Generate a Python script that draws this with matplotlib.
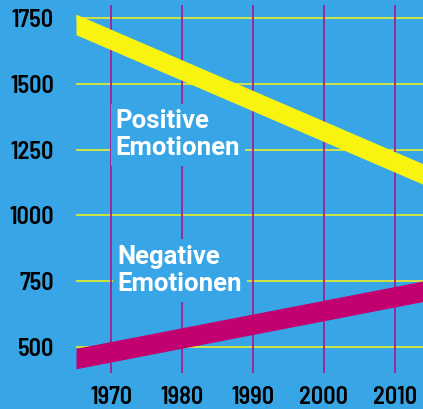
import matplotlib
matplotlib.use('Agg')
import matplotlib.pyplot as plt

# data
years = [1965, 2014]
positive = [1726, 1157]
negative = [455, 711]
band_width = 78

x_ticks = [1970, 1980, 1990, 2000, 2010]
y_ticks = [500, 750, 1000, 1250, 1500, 1750]

bg_blue = '#38a6e6'
band_yellow = '#f8f410'
band_magenta = '#c2006f'
grid_yellow = '#ecec28'
grid_purple = '#a8168a'

tick_font = ['Barlow Semi Condensed', 'Roboto Condensed', 'DejaVu Sans']
label_font = ['Roboto', 'DejaVu Sans']

fig = plt.figure(figsize=(4.23, 4.09), dpi=100)
fig.patch.set_facecolor(bg_blue)
ax = fig.add_axes([76/423, 36/409, 347/423, 368/409])
ax.set_facecolor(bg_blue)

ax.set_xlim(1965, 2014)
ax.set_ylim(400, 1800)

for y in y_ticks:
    ax.axhline(y, color=grid_yellow, lw=1.2, zorder=1)
for x in x_ticks:
    ax.axvline(x, color=grid_purple, lw=1.2, zorder=1)

half = band_width / 2
ax.fill_between(years, [v - half for v in positive], [v + half for v in positive],
                color=band_yellow, lw=0, zorder=3)
ax.fill_between(years, [v - half for v in negative], [v + half for v in negative],
                color=band_magenta, lw=0, zorder=3)

# label boxes hide the grid but sit under the bands
box = dict(boxstyle='square,pad=0.2', facecolor=bg_blue, edgecolor='none')
ax.text(1970.6, 1307, 'Positive\nEmotionen', color='white', fontsize=18.5,
        fontweight='bold', family=label_font, ha='left', va='center',
        linespacing=1.2, bbox=box, zorder=2)
ax.text(1970.9, 790, 'Negative\nEmotionen', color='white', fontsize=18.5,
        fontweight='bold', family=label_font, ha='left', va='center',
        linespacing=1.2, bbox=box, zorder=2)

ax.set_xticks(x_ticks)
ax.set_yticks(y_ticks)
ax.set_xticklabels([str(x) for x in x_ticks])
ax.set_yticklabels([str(y) for y in y_ticks])
ax.tick_params(length=0, labelsize=17.5, colors='black')
ax.tick_params(axis='y', pad=16)
ax.tick_params(axis='x', pad=9)
for lbl in ax.get_xticklabels() + ax.get_yticklabels():
    lbl.set_family(tick_font)
    lbl.set_fontweight(600)

for s in ax.spines.values():
    s.set_visible(False)

fig.savefig('out.png', dpi=100, facecolor=bg_blue)
